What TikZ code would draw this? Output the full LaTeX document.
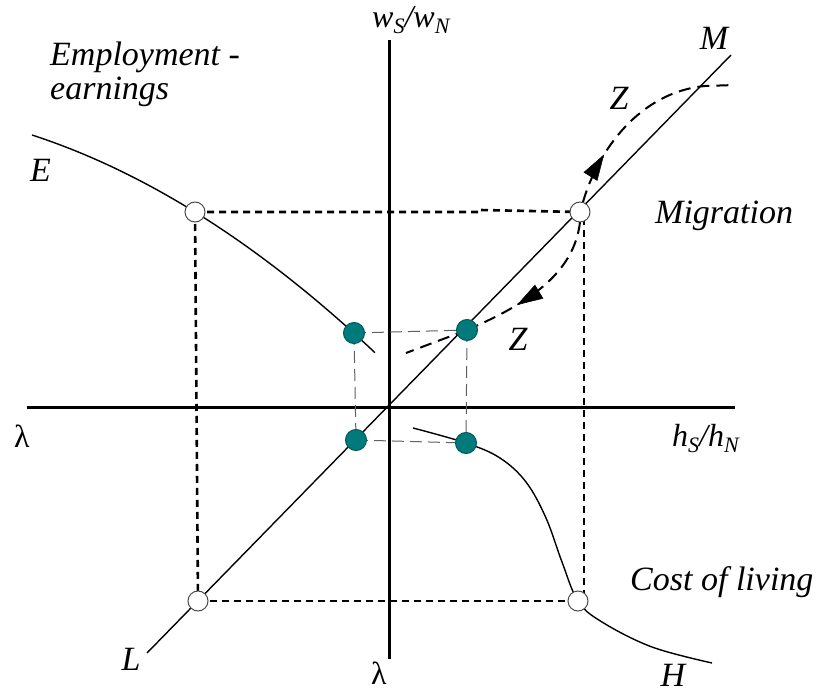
\documentclass[tikz,border=0pt]{standalone}
\usepackage{fontspec}
\setmainfont{Liberation Serif}
\usetikzlibrary{arrows.meta,decorations.markings}
\definecolor{tealdot}{RGB}{0,122,122}
\definecolor{tealedge}{RGB}{0,90,90}
\newcommand{\bigfont}{\fontsize{34}{40}\selectfont\itshape}
\newcommand{\subfnt}{\fontsize{22}{22}\selectfont\itshape}
\tikzset{
  axisline/.style={line width=3pt},
  curveline/.style={line width=1.4pt},
  thickdash/.style={line width=2.6pt, dash pattern=on 7pt off 5pt},
  thindash/.style={line width=1pt, gray!75!black, dash pattern=on 12pt off 6pt},
  zdash/.style={line width=2pt, dash pattern=on 12pt off 7pt},
  opendot/.style={circle, draw=gray!60!black, fill=white, line width=1pt, minimum size=20pt, inner sep=0pt},
  fulldot/.style={circle, draw=tealedge, fill=tealdot, line width=1pt, minimum size=21pt, inner sep=0pt},
  lbl/.style={inner sep=0pt, font=\bigfont},
  ztip/.style={solid, line width=0.5pt},
}
\begin{document}
\begin{tikzpicture}[x=1pt,y=-1pt]
\useasboundingbox (0,0) rectangle (820,695);
% axes
\coordinate (xl) at (27,407);
\coordinate (xr) at (735,407);
\coordinate (yt) at (389,40);
\coordinate (yb) at (389,659);
\draw[axisline] (xl) -- (xr);
\draw[axisline] (yt) -- (yb);
% diagonal
\coordinate (dl) at (147,653);
\coordinate (du) at (731,55);
\draw[curveline] (dl) -- (du);
% E curve
\draw[curveline] plot[domain=0:343, samples=80] ({\x+32},{135+0.326*\x+0.000897*\x*\x});
% H curve
\draw[curveline] plot[smooth, tension=0.6] coordinates {(413,428) (466,443) (500,458) (526,482) (546,518) (562,562) (578,601) (602,622) (652,647) (712,663)};
% dots positions
\coordinate (o1) at (195,212);
\coordinate (o2) at (580,212);
\coordinate (o3) at (198,601);
\coordinate (o4) at (578,601);
\coordinate (f1) at (354,333);
\coordinate (f2) at (467,330);
\coordinate (f3) at (356,440);
\coordinate (f4) at (466,443);
% thick dashed rectangle
\draw[thickdash] (o1) -- (480,212) -- (480,210) -- (o2);
\draw[thickdash] (o1) -- (o3);
\draw[thickdash] (o3) -- (o4);
\draw[thickdash] (584,218) -- (584,593);
% thin dashed rectangle
\draw[thindash] (f1) -- (f2);
\draw[thindash] (f1) -- (f3);
\draw[thindash] (f3) -- (f4);
\draw[thindash] (f2) -- (f4);
% Z paths
\draw[zdash, postaction={decorate}, decoration={markings, mark=at position 0.25 with {\arrow[ztip]{Triangle[length=26pt, width=16pt]}}}]
  (583,202) .. controls (598,150) and (640,92) .. (705,86) -- (735,85);
\draw[zdash, postaction={decorate}, decoration={markings, mark=at position 0.66 with {\arrow[ztip]{Triangle[length=26pt, width=16pt]}}}]
  (580,222) .. controls (574,275) and (525,305) .. (467,330);
\draw[zdash] (467,330) -- (406,353);
% dots
\node[opendot] (O1) at (o1) {};
\node[opendot] (O2) at (o2) {};
\node[opendot] (O3) at (o3) {};
\node[opendot] (O4) at (o4) {};
\node[fulldot] (F1) at (f1) {};
\node[fulldot] (F2) at (f2) {};
\node[fulldot] (F3) at (f3) {};
\node[fulldot] (F4) at (f4) {};
% labels
\node[lbl, anchor=base west] (emp) at (50,66) {Employment -};
\node[lbl, anchor=base west] (ear) at (50,100) {earnings};
\node[lbl, anchor=base west] (lE) at (30,182) {E};
\node[lbl, anchor=base] (lM) at (714,50) {M};
\node[lbl, anchor=base] (lZ1) at (619,110) {Z};
\node[lbl, anchor=base] (lZ2) at (518,350) {Z};
\node[lbl, anchor=base west] (mig) at (655,224) {Migration};
\node[lbl, anchor=base west] (col) at (630,590) {Cost of living};
\node[lbl, anchor=base] (lL) at (131,670) {L};
\node[lbl, anchor=base] (lH) at (673,686) {H};
\node[inner sep=0pt, anchor=base] (lam1) at (22,447) {\fontsize{32}{36}\selectfont λ};
\node[inner sep=0pt, anchor=base] (lam2) at (379,684) {\fontsize{32}{36}\selectfont λ};
\node[inner sep=0pt, anchor=base west] (wlab) at (372,28) {\fontsize{32}{36}\selectfont\itshape w\raisebox{-6pt}{\subfnt S}/w\raisebox{-6pt}{\subfnt N}};
\node[inner sep=0pt, anchor=base west] (hlab) at (672,446) {\fontsize{32}{36}\selectfont\itshape h\raisebox{-6pt}{\subfnt S}/h\raisebox{-6pt}{\subfnt N}};
\end{tikzpicture}
\end{document}
